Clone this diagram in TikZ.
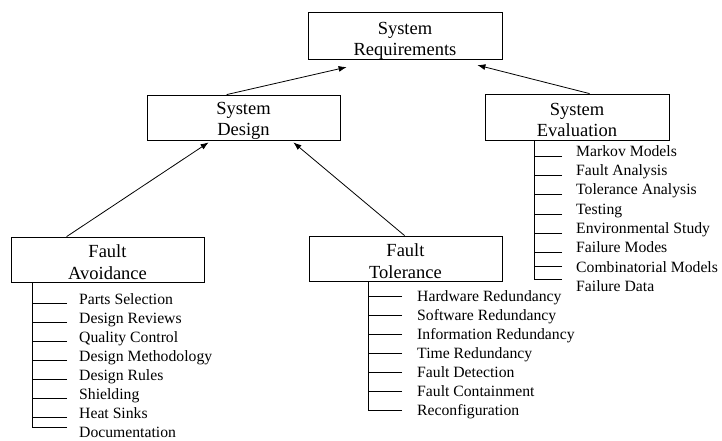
\documentclass[tikz,border=0pt]{standalone}
\usepackage{fontspec}
\setmainfont{Liberation Serif}
\usetikzlibrary{arrows.meta}
% strut that sets how far the first line of a box label sits from the top
\newcommand{\toplift}[1][18.5pt]{\rule{0pt}{#1}}
\begin{document}
\begin{tikzpicture}[x=1pt,y=-1pt,
  box/.style={draw,line width=0.8pt,minimum width=#1,minimum height=45pt,
    inner sep=0pt,align=center,font=\rmfamily\fontsize{18.5}{21.5}\selectfont},
  item/.style={anchor=base west,inner sep=0pt,font=\rmfamily\fontsize{15.7}{18}\selectfont},
  arr/.style={-{Latex[length=8pt,width=6pt]},line width=0.8pt},
  tick/.style={line width=0.8pt},
  trunk/.style={line width=0.8pt}]
\useasboundingbox (0,0) rectangle (722,440);

% main boxes
\node[box=194pt,minimum height=46pt] (req)   at (405,36)    {\toplift[22pt]System\\Requirements};
\node[box=193pt] (design) at (243.5,117.5) {\toplift System\\Design};
\node[box=184pt,minimum height=46pt] (eval)  at (577,117)   {\toplift System\\Evaluation};
\node[box=193pt] (avoid)  at (107.5,259.5) {\toplift Fault\\Avoidance};
\node[box=193pt] (tol)    at (405.5,258.5) {\toplift Fault\\Tolerance};

% hierarchy arrows
\draw[arr] ([xshift=80pt]design.north west) -- ([xshift=39pt,yshift=-7pt]req.south west);
\draw[arr] ([xshift=105pt]eval.north west) -- ([xshift=-25pt,yshift=-5pt]req.south east);
\draw[arr] ([xshift=56pt]avoid.north west) -- ([xshift=62pt,yshift=-2pt]design.south west);
\draw[arr] ([xshift=96pt]tol.north west) -- ([xshift=-47pt,yshift=-2pt]design.south east);

% fault avoidance techniques
\foreach \t/\s [count=\i from 0] in {Parts Selection/1, Design Reviews/1, Quality Control/1,
    Design Methodology/1, Design Rules/1, Shielding/1, Heat Sinks/1, Documentation/10.5} {
  \node[item] (av\i) at (79,{298.5+19.1*\i+5.5}) {\t};
  \draw[tick] ([xshift=-12pt,yshift=\s pt]av\i.base west) -- ++(-35,0) coordinate (avt\i);
}
\draw[trunk] (avoid.south -| avt7) -- (avt7);

% fault tolerance techniques
\foreach \t/\s [count=\i from 0] in {Hardware Redundancy/5.5, Software Redundancy/5.5,
    Information Redundancy/5.5, Time Redundancy/5.5, Fault Detection/5.5,
    Fault Containment/5.5, Reconfiguration/5.5} {
  \node[item] (ft\i) at (417,{296+19*\i+5.5}) {\t};
  \draw[tick] ([xshift=-15pt,yshift=\s pt]ft\i.base west) -- ++(-34,0) coordinate (ftt\i);
}
\draw[trunk] (tol.south -| ftt6) -- (ftt6);

% evaluation techniques
\foreach \t/\s [count=\i from 0] in {Markov Models/0, Fault Analysis/0, Tolerance Analysis/0,
    Testing/0, Environmental Study/0, Failure Modes/0, Combinatorial Models/5.5,
    Failure Data/11.5} {
  \node[item] (ev\i) at (576,{150.7+19.3*\i+5.5}) {\t};
  \draw[tick] ([xshift=-14pt,yshift=\s pt]ev\i.base west) -- ++(-28,0) coordinate (evt\i);
}
\draw[trunk] (eval.south -| evt7) -- (evt7);
\end{tikzpicture}
\end{document}
